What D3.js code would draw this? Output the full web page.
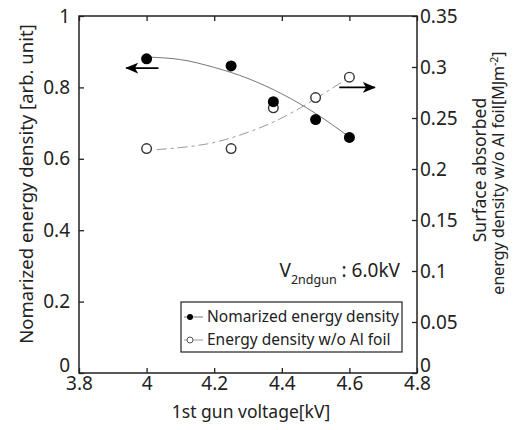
<!DOCTYPE html>
<meta charset="utf-8" />
<style>
  body { margin: 0; background: #fff; }
  text { font-family: 'Noto Sans', 'Open Sans', sans-serif; fill: #222; }
  .axis path { display: none; }
  .axis line { stroke: #222; stroke-width: 1.3px; }
  .axis text { font-size: 19px; }
</style>
<svg width="514" height="430"></svg>
<script src="https://d3js.org/d3.v7.min.js"></script>
<script>
  // measured points
  var voltage = [4.0, 4.25, 4.375, 4.5, 4.6];
  var normDensity = [0.88, 0.86, 0.76, 0.71, 0.66];
  var foilDensity = [0.22, 0.22, 0.26, 0.27, 0.29];

  // fitted curves
  var fitVoltage = [4.0, 4.1, 4.2, 4.3, 4.4, 4.5, 4.6];
  var normFit = [0.885, 0.878, 0.856, 0.825, 0.782, 0.727, 0.661];
  var foilFitVoltage = [4.03, 4.1, 4.2, 4.3, 4.375, 4.45, 4.5, 4.6];
  var foilFit = [0.219, 0.221, 0.226, 0.236, 0.246, 0.259, 0.269, 0.29];

  var xTicks = [3.8, 4.0, 4.2, 4.4, 4.6, 4.8];
  var yLeftTicks = [0, 0.2, 0.4, 0.6, 0.8, 1];
  var yRightTicks = [0, 0.05, 0.1, 0.15, 0.2, 0.25, 0.3, 0.35];

  var legendLabels = ['Nomarized energy density', 'Energy density w/o Al foil'];

  var svg = d3.select('svg'),
    margin = { top: 16, right: 97, bottom: 57, left: 79 },
    width = svg.attr('width') - margin.left - margin.right,
    height = svg.attr('height') - margin.top - margin.bottom,
    g = svg.append('g').attr('transform', 'translate(' + margin.left + ',' + margin.top + ')');

  var x = d3.scaleLinear().domain([3.8, 4.8]).range([0, width]);
  var yL = d3.scaleLinear().domain([0, 1]).range([height, 0]);
  var yR = d3.scaleLinear().domain([0, 0.35]).range([height, 0]);

  var fmt = function (d) { return d3.format('')(+d.toFixed(2)); };

  g.append('g').attr('class', 'axis').attr('transform', 'translate(0,' + height + ')')
    .call(d3.axisBottom(x).tickValues(xTicks).tickSize(-5).tickPadding(3).tickFormat(fmt));
  g.append('g').attr('class', 'axis')
    .call(d3.axisTop(x).tickValues(xTicks).tickSize(-5).tickFormat(''));
  g.append('g').attr('class', 'axis y-left')
    .call(d3.axisLeft(yL).tickValues(yLeftTicks).tickSize(-5).tickPadding(9).tickFormat(fmt));
  g.append('g').attr('class', 'axis y-right').attr('transform', 'translate(' + width + ',0)')
    .call(d3.axisRight(yR).tickValues(yRightTicks).tickSize(-5).tickPadding(3).tickFormat(fmt));

  // the zero labels sit a bit above the corner
  g.selectAll('.y-left .tick text, .y-right .tick text')
    .filter(function (d) { return d === 0; })
    .attr('dy', '-0.08em');

  g.append('rect').attr('width', width).attr('height', height)
    .attr('fill', 'none').attr('stroke', '#222').attr('stroke-width', 1.5);

  // fit lines
  var normLine = d3.line().curve(d3.curveMonotoneX)
    .x(function (d) { return x(d[0]); }).y(function (d) { return yL(d[1]); });
  var foilLine = d3.line().curve(d3.curveMonotoneX)
    .x(function (d) { return x(d[0]); }).y(function (d) { return yR(d[1]); });

  g.append('path').datum(d3.zip(fitVoltage, normFit)).attr('d', normLine)
    .attr('fill', 'none').attr('stroke', '#777').attr('stroke-width', 1);
  g.append('path').datum(d3.zip(foilFitVoltage, foilFit)).attr('d', foilLine)
    .attr('fill', 'none').attr('stroke', '#999').attr('stroke-width', 1)
    .attr('stroke-dasharray', '10,4,3,4');

  g.selectAll('.open').data(d3.zip(voltage, foilDensity)).enter().append('circle')
    .attr('cx', function (d) { return x(d[0]); })
    .attr('cy', function (d) { return yR(d[1]); })
    .attr('r', 4.8).attr('fill', '#fff').attr('stroke', '#333').attr('stroke-width', 1.4);
  g.selectAll('.filled').data(d3.zip(voltage, normDensity)).enter().append('circle')
    .attr('cx', function (d) { return x(d[0]); })
    .attr('cy', function (d) { return yL(d[1]); })
    .attr('r', 5.5).attr('fill', '#000');

  // arrows pointing to each axis
  svg.append('defs').append('marker').attr('id', 'head')
    .attr('viewBox', '0 0 12 10').attr('refX', 11).attr('refY', 5)
    .attr('markerWidth', 13).attr('markerHeight', 11).attr('markerUnits', 'userSpaceOnUse')
    .attr('orient', 'auto')
    .append('path').attr('d', 'M0,0 L12,5 L0,10 L3,5 Z').attr('fill', '#000');
  g.append('line').attr('x1', x(4.035)).attr('x2', x(3.94))
    .attr('y1', yL(0.854)).attr('y2', yL(0.854))
    .attr('stroke', '#000').attr('stroke-width', 1.6).attr('marker-end', 'url(#head)');
  g.append('line').attr('x1', x(4.57)).attr('x2', x(4.675))
    .attr('y1', yR(0.28)).attr('y2', yR(0.28))
    .attr('stroke', '#000').attr('stroke-width', 1.6).attr('marker-end', 'url(#head)');

  // annotation
  var ann = g.append('text').attr('x', width - 17).attr('y', 261)
    .attr('text-anchor', 'end').style('font-size', '19px');
  ann.append('tspan').text('V');
  ann.append('tspan').attr('dy', 7).style('font-size', '12.5px').text('2ndgun');
  ann.append('tspan').attr('dy', -7).text(' : 6.0kV');

  // legend
  var lg = g.append('g').attr('transform', 'translate(' + (181 - margin.left) + ',' + (302 - margin.top) + ')');
  lg.append('rect').attr('width', 221).attr('height', 50)
    .attr('fill', '#fff').attr('stroke', '#222').attr('stroke-width', 1.2);
  var row = lg.selectAll('.row').data(legendLabels).enter().append('g')
    .attr('transform', function (d, i) { return 'translate(0,' + (15 + i * 23) + ')'; });
  row.append('line').attr('x1', 3).attr('x2', 22)
    .attr('stroke', function (d, i) { return i ? '#999' : '#777'; }).attr('stroke-width', 1);
  row.append('circle').attr('cx', 9).attr('r', 3)
    .attr('fill', function (d, i) { return i ? '#fff' : '#000'; })
    .attr('stroke', function (d, i) { return i ? '#555' : 'none'; });
  row.append('text').attr('x', 26).attr('dy', '0.35em').style('font-size', '15.5px')
    .text(function (d) { return d; });

  // axis titles
  svg.append('text').attr('x', (margin.left + margin.left + width) / 2 + 3).attr('y', 418)
    .attr('text-anchor', 'middle').style('font-size', '17.5px').text('1st gun voltage[kV]');
  svg.append('text').attr('transform', 'translate(33,184) rotate(-90)')
    .attr('text-anchor', 'middle').style('font-size', '18.5px')
    .text('Nomarized energy density [arb. unit]');
  svg.append('text').attr('transform', 'translate(486,170) rotate(-90)')
    .attr('text-anchor', 'middle').style('font-size', '17.5px')
    .text('Surface absorbed');
  var l2 = svg.append('text').attr('transform', 'translate(504,173) rotate(-90)')
    .attr('text-anchor', 'middle').style('font-size', '16px');
  l2.append('tspan').text('energy density w/o Al foil[MJm');
  l2.append('tspan').attr('dy', -6).style('font-size', '10.5px').text('-2');
  l2.append('tspan').attr('dy', 6).text(']');
</script>
